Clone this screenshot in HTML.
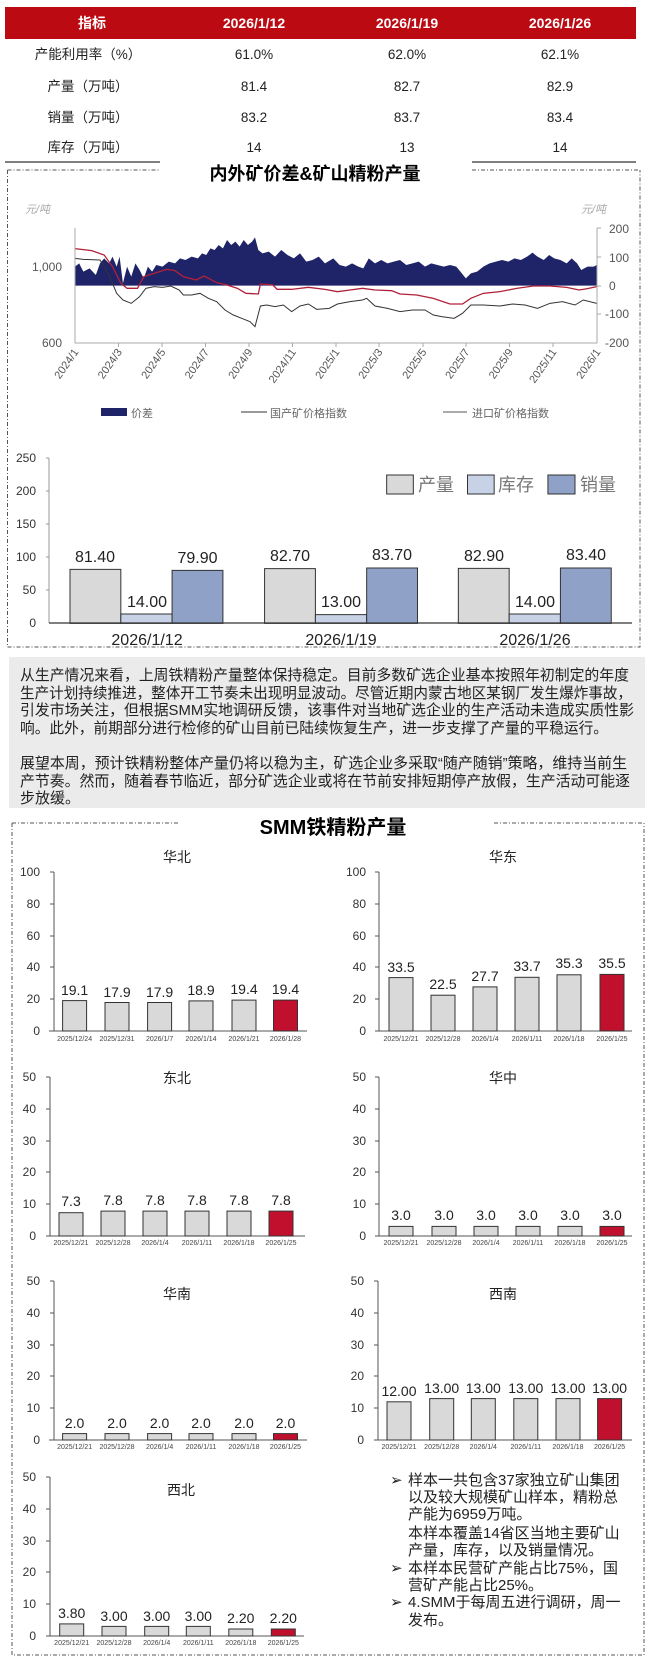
<!DOCTYPE html>
<html><head><meta charset="utf-8"><style>
html,body{margin:0;padding:0;background:#fff;}
svg{display:block;font-family:"Liberation Sans","Noto Sans CJK SC",sans-serif;}
</style></head><body>
<svg width="646" height="1667" viewBox="0 0 646 1667" xmlns="http://www.w3.org/2000/svg">
<!-- ===== TABLE ===== -->
<rect x="5" y="7" width="631" height="32" fill="#bb0a12"/>
<g fill="#fff" font-weight="bold" font-size="14" text-anchor="middle">
<text x="92" y="28">指标</text><text x="254" y="28">2026/1/12</text><text x="407" y="28">2026/1/19</text><text x="560" y="28">2026/1/26</text>
</g>
<g fill="#222" font-size="13.5" text-anchor="middle">
<text x="88" y="59">产能利用率（%）</text><text x="254" y="59">61.0%</text><text x="407" y="59">62.0%</text><text x="560" y="59">62.1%</text>
<text x="88" y="91">产量（万吨）</text><text x="254" y="91">81.4</text><text x="407" y="91">82.7</text><text x="560" y="91">82.9</text>
<text x="88" y="122">销量（万吨）</text><text x="254" y="122">83.2</text><text x="407" y="122">83.7</text><text x="560" y="122">83.4</text>
<text x="88" y="152">库存（万吨）</text><text x="254" y="152">14</text><text x="407" y="152">13</text><text x="560" y="152">14</text>
</g>
<line x1="5" y1="162" x2="160" y2="162" stroke="#333" stroke-width="1.2"/>
<line x1="472" y1="162" x2="636" y2="162" stroke="#333" stroke-width="1.2"/>

<!-- dashed box 1 -->
<g stroke="#555" stroke-width="1" stroke-dasharray="4,2,1,2" fill="none">
<path d="M7.5,170 H160 M472,170 H640 M7.5,170 V647 H640 V170"/>
</g>
<text x="315" y="180" font-size="18" font-weight="bold" text-anchor="middle" fill="#000">内外矿价差&amp;矿山精粉产量</text>

<!-- ===== LINE CHART ===== -->
<text x="25" y="213" font-size="11" font-style="italic" fill="#aaa">元/吨</text>
<text x="581" y="213" font-size="11" font-style="italic" fill="#aaa">元/吨</text>
<g transform="scale(0.416667,0.333333)">
<path fill="#1f2468" d="M180,800 190,790 200,815 215,805 230,825 240,790 250,775 262,790 270,770 280,800 287,770 295,850 305,800 315,830 325,790 335,810 345,835 355,800 365,815 375,795 390,800 405,785 420,790 432,775 445,780 460,770 475,775 485,760 495,765 505,745 515,750 525,735 535,745 545,720 555,735 565,725 575,740 585,720 595,735 605,725 612,712 620,750 630,760 645,755 660,770 675,750 690,765 705,775 720,760 735,785 750,780 765,770 780,790 800,775 815,795 830,800 845,790 860,800 872,805 885,775 900,790 915,780 930,790 945,785 960,780 975,795 990,790 1005,785 1020,800 1035,790 1050,795 1065,800 1080,795 1095,800 1105,815 1118,835 1130,820 1145,815 1160,800 1175,790 1190,785 1205,780 1220,785 1235,775 1250,780 1265,770 1278,758 1290,770 1305,780 1318,765 1330,775 1345,780 1360,790 1372,775 1385,790 1395,810 1410,800 1425,800 1432,795 1432,857 180,857Z"/>
<path fill="none" stroke="#b0203a" stroke-width="1.3" vector-effect="non-scaling-stroke" d="M180,746 220,752 250,765 270,800 290,850 305,865 330,865 345,830 370,820 400,808 420,812 440,830 470,840 490,828 520,848 545,855 570,865 590,880 620,882 625,852 655,855 665,868 700,868 740,862 780,868 810,875 840,870 870,865 900,870 940,872 960,882 1000,885 1040,895 1080,912 1110,912 1130,895 1160,880 1200,875 1240,865 1280,858 1320,858 1360,862 1390,870 1410,866 1432,860"/>
<path fill="none" stroke="#333" stroke-width="1" vector-effect="non-scaling-stroke" d="M180,775 200,778 240,780 260,820 280,880 295,900 315,910 335,890 350,865 370,860 390,862 410,858 430,870 440,885 460,885 480,880 500,895 520,905 540,930 560,945 580,955 600,965 612,980 625,918 640,915 660,920 680,915 700,935 720,918 740,912 760,928 790,925 810,912 840,905 870,900 880,895 900,918 930,925 960,935 990,930 1020,930 1040,945 1060,950 1090,955 1110,940 1130,915 1160,915 1200,918 1230,912 1260,915 1290,925 1320,910 1350,905 1380,915 1400,900 1432,910"/>
</g>
<g stroke="#aaa" stroke-width="1">
<line x1="75" y1="228" x2="75" y2="343"/><line x1="597" y1="228" x2="597" y2="343"/>
<line x1="75" y1="343" x2="597" y2="343"/>
<line x1="597" y1="228" x2="601" y2="228"/><line x1="597" y1="257" x2="601" y2="257"/><line x1="597" y1="286" x2="601" y2="286"/><line x1="597" y1="314" x2="601" y2="314"/>
<line x1="118.5" y1="343" x2="118.5" y2="347"/><line x1="162" y1="343" x2="162" y2="347"/><line x1="205.5" y1="343" x2="205.5" y2="347"/><line x1="249" y1="343" x2="249" y2="347"/><line x1="292.5" y1="343" x2="292.5" y2="347"/><line x1="336" y1="343" x2="336" y2="347"/><line x1="379" y1="343" x2="379" y2="347"/><line x1="423" y1="343" x2="423" y2="347"/><line x1="466" y1="343" x2="466" y2="347"/><line x1="509.5" y1="343" x2="509.5" y2="347"/><line x1="553" y1="343" x2="553" y2="347"/>
</g>
<g font-size="12" fill="#555">
<text x="62" y="271" text-anchor="end">1,000</text><text x="62" y="347" text-anchor="end">600</text>
<text x="609" y="233">200</text><text x="609" y="262">100</text><text x="609" y="290">0</text><text x="605" y="318">-100</text><text x="605" y="347">-200</text>
</g>
<g font-size="11" fill="#555" text-anchor="end">
<text transform="translate(79,352) rotate(-55)">2024/1</text>
<text transform="translate(122.5,352) rotate(-55)">2024/3</text>
<text transform="translate(166,352) rotate(-55)">2024/5</text>
<text transform="translate(209.5,352) rotate(-55)">2024/7</text>
<text transform="translate(253,352) rotate(-55)">2024/9</text>
<text transform="translate(296.5,352) rotate(-55)">2024/11</text>
<text transform="translate(340,352) rotate(-55)">2025/1</text>
<text transform="translate(383,352) rotate(-55)">2025/3</text>
<text transform="translate(427,352) rotate(-55)">2025/5</text>
<text transform="translate(470,352) rotate(-55)">2025/7</text>
<text transform="translate(513.5,352) rotate(-55)">2025/9</text>
<text transform="translate(557,352) rotate(-55)">2025/11</text>
<text transform="translate(601,352) rotate(-55)">2026/1</text>
</g>
<rect x="101" y="408" width="26" height="8" fill="#1f2468"/>
<line x1="241" y1="412" x2="267" y2="412" stroke="#333"/>
<line x1="443" y1="412" x2="467" y2="412" stroke="#555"/>
<g font-size="11" fill="#666"><text x="131" y="417">价差</text><text x="270" y="417">国产矿价格指数</text><text x="472" y="417">进口矿价格指数</text></g>

<!-- ===== BAR CHART 1 ===== -->
<g stroke="#999" stroke-width="1">
<line x1="49" y1="458" x2="49" y2="623"/>
<line x1="46" y1="458" x2="49" y2="458"/><line x1="46" y1="491" x2="49" y2="491"/><line x1="46" y1="524" x2="49" y2="524"/><line x1="46" y1="557" x2="49" y2="557"/><line x1="46" y1="590" x2="49" y2="590"/>
</g>
<g font-size="12" fill="#333" text-anchor="end">
<text x="36" y="462">250</text><text x="36" y="495">200</text><text x="36" y="528">150</text><text x="36" y="561">100</text><text x="36" y="594">50</text><text x="36" y="627">0</text>
</g>
<g transform="translate(0,420) scale(0.416667,0.333333)" stroke="#333" stroke-width="1" >
<g vector-effect="non-scaling-stroke">
<rect x="168" y="448" width="122" height="162" fill="#d9d9d9" vector-effect="non-scaling-stroke"/>
<rect x="290" y="582" width="123" height="28" fill="#c8d2e6" vector-effect="non-scaling-stroke"/>
<rect x="413" y="451" width="122" height="159" fill="#8fa1c6" vector-effect="non-scaling-stroke"/>
<rect x="635" y="446" width="122" height="164" fill="#d9d9d9" vector-effect="non-scaling-stroke"/>
<rect x="757" y="584" width="123" height="26" fill="#c8d2e6" vector-effect="non-scaling-stroke"/>
<rect x="880" y="444" width="122" height="166" fill="#8fa1c6" vector-effect="non-scaling-stroke"/>
<rect x="1100" y="445" width="122" height="165" fill="#d9d9d9" vector-effect="non-scaling-stroke"/>
<rect x="1222" y="582" width="123" height="28" fill="#c8d2e6" vector-effect="non-scaling-stroke"/>
<rect x="1345" y="444" width="122" height="166" fill="#8fa1c6" vector-effect="non-scaling-stroke"/>
<rect x="928" y="165" width="64" height="57" fill="#d9d9d9" vector-effect="non-scaling-stroke"/>
<rect x="1122" y="165" width="64" height="57" fill="#c8d2e6" vector-effect="non-scaling-stroke"/>
<rect x="1315" y="165" width="65" height="57" fill="#8fa1c6" vector-effect="non-scaling-stroke"/>
</g>
</g>
<line x1="49" y1="623" x2="632" y2="623" stroke="#333" stroke-width="1.2"/>
<g font-size="18" fill="#777"><text x="418" y="491">产量</text><text x="498" y="491">库存</text><text x="580" y="491">销量</text></g>
<g font-size="16" fill="#222" text-anchor="middle">
<text x="95" y="562">81.40</text><text x="147" y="607">14.00</text><text x="197.5" y="563">79.90</text>
<text x="290" y="561">82.70</text><text x="341" y="607">13.00</text><text x="392" y="560">83.70</text>
<text x="484" y="561">82.90</text><text x="535" y="607">14.00</text><text x="586" y="560">83.40</text>
<text x="147" y="645">2026/1/12</text><text x="341" y="645">2026/1/19</text><text x="535" y="645">2026/1/26</text>
</g>

<!-- ===== TEXT BOX ===== -->
<rect x="9" y="657" width="636" height="151" fill="#ebebeb"/>
<g font-size="15" fill="#222">
<text x="20" y="680" textLength="609" lengthAdjust="spacingAndGlyphs">从生产情况来看，上周铁精粉产量整体保持稳定。目前多数矿选企业基本按照年初制定的年度</text>
<text x="20" y="698" textLength="612" lengthAdjust="spacingAndGlyphs">生产计划持续推进，整体开工节奏未出现明显波动。尽管近期内蒙古地区某钢厂发生爆炸事故，</text>
<text x="20" y="715" textLength="614" lengthAdjust="spacingAndGlyphs">引发市场关注，但根据SMM实地调研反馈，该事件对当地矿选企业的生产活动未造成实质性影</text>
<text x="20" y="733" textLength="588" lengthAdjust="spacingAndGlyphs">响。此外，前期部分进行检修的矿山目前已陆续恢复生产，进一步支撑了产量的平稳运行。</text>
<text x="20" y="768" textLength="607" lengthAdjust="spacingAndGlyphs">展望本周，预计铁精粉整体产量仍将以稳为主，矿选企业多采取“随产随销”策略，维持当前生</text>
<text x="20" y="786" textLength="610" lengthAdjust="spacingAndGlyphs">产节奏。然而，随着春节临近，部分矿选企业或将在节前安排短期停产放假，生产活动可能逐</text>
<text x="20" y="803">步放缓。</text>
</g>

<!-- ===== SMM SECTION ===== -->
<g stroke="#555" stroke-width="1" stroke-dasharray="4,2,1,2" fill="none">
<path d="M12,823 H179 M494,823 H644 M12,823 V1655 H644 V823"/>
</g>
<text x="333" y="834" font-size="20" font-weight="bold" text-anchor="middle" fill="#000">SMM铁精粉产量</text>

<!-- shared small chart styles -->
<g font-size="14" fill="#222" text-anchor="middle">
<text x="177" y="862">华北</text><text x="503" y="862">华东</text>
<text x="177" y="1083">东北</text><text x="503" y="1083">华中</text>
<text x="177" y="1299">华南</text><text x="503" y="1299">西南</text>
<text x="181" y="1495">西北</text>
</g>

<!-- axes -->
<g stroke="#555" stroke-width="1">
<!-- 华北 -->
<line x1="54" y1="872" x2="54" y2="1031"/><line x1="49" y1="1031" x2="307" y2="1031"/>
<line x1="50" y1="872" x2="54" y2="872"/><line x1="50" y1="904" x2="54" y2="904"/><line x1="50" y1="936" x2="54" y2="936"/><line x1="50" y1="967" x2="54" y2="967"/><line x1="50" y1="999" x2="54" y2="999"/>
<!-- 华东 -->
<line x1="379" y1="872" x2="379" y2="1031"/><line x1="375" y1="1031" x2="632" y2="1031"/>
<line x1="375" y1="872" x2="379" y2="872"/><line x1="375" y1="904" x2="379" y2="904"/><line x1="375" y1="936" x2="379" y2="936"/><line x1="375" y1="967" x2="379" y2="967"/><line x1="375" y1="999" x2="379" y2="999"/>
<!-- 东北 -->
<line x1="50" y1="1077" x2="50" y2="1236"/><line x1="46" y1="1236" x2="305" y2="1236"/>
<line x1="46" y1="1077" x2="50" y2="1077"/><line x1="46" y1="1109" x2="50" y2="1109"/><line x1="46" y1="1141" x2="50" y2="1141"/><line x1="46" y1="1172" x2="50" y2="1172"/><line x1="46" y1="1204" x2="50" y2="1204"/>
<!-- 华中 -->
<line x1="379" y1="1077" x2="379" y2="1236"/><line x1="375" y1="1236" x2="632" y2="1236"/>
<line x1="375" y1="1077" x2="379" y2="1077"/><line x1="375" y1="1109" x2="379" y2="1109"/><line x1="375" y1="1141" x2="379" y2="1141"/><line x1="375" y1="1172" x2="379" y2="1172"/><line x1="375" y1="1204" x2="379" y2="1204"/>
<!-- 华南 -->
<line x1="54" y1="1281" x2="54" y2="1440"/><line x1="49" y1="1440" x2="307" y2="1440"/>
<line x1="50" y1="1281" x2="54" y2="1281"/><line x1="50" y1="1313" x2="54" y2="1313"/><line x1="50" y1="1345" x2="54" y2="1345"/><line x1="50" y1="1376" x2="54" y2="1376"/><line x1="50" y1="1408" x2="54" y2="1408"/>
<!-- 西南 -->
<line x1="378" y1="1281" x2="378" y2="1440"/><line x1="374" y1="1440" x2="632" y2="1440"/>
<line x1="374" y1="1281" x2="378" y2="1281"/><line x1="374" y1="1313" x2="378" y2="1313"/><line x1="374" y1="1345" x2="378" y2="1345"/><line x1="374" y1="1376" x2="378" y2="1376"/><line x1="374" y1="1408" x2="378" y2="1408"/>
<!-- 西北 -->
<line x1="50" y1="1477" x2="50" y2="1636"/><line x1="46" y1="1636" x2="304" y2="1636"/>
<line x1="46" y1="1477" x2="50" y2="1477"/><line x1="46" y1="1509" x2="50" y2="1509"/><line x1="46" y1="1541" x2="50" y2="1541"/><line x1="46" y1="1572" x2="50" y2="1572"/><line x1="46" y1="1604" x2="50" y2="1604"/>
</g>
<g font-size="12" fill="#333" text-anchor="end">
<text x="40" y="876">100</text><text x="40" y="908">80</text><text x="40" y="940">60</text><text x="40" y="971">40</text><text x="40" y="1003">20</text><text x="40" y="1035">0</text>
<text x="366" y="876">100</text><text x="366" y="908">80</text><text x="366" y="940">60</text><text x="366" y="971">40</text><text x="366" y="1003">20</text><text x="366" y="1035">0</text>
<text x="36" y="1081">50</text><text x="36" y="1113">40</text><text x="36" y="1145">30</text><text x="36" y="1176">20</text><text x="36" y="1208">10</text><text x="36" y="1240">0</text>
<text x="366" y="1081">50</text><text x="366" y="1113">40</text><text x="366" y="1145">30</text><text x="366" y="1176">20</text><text x="366" y="1208">10</text><text x="366" y="1240">0</text>
<text x="40" y="1285">50</text><text x="40" y="1317">40</text><text x="40" y="1349">30</text><text x="40" y="1380">20</text><text x="40" y="1412">10</text><text x="40" y="1444">0</text>
<text x="364" y="1285">50</text><text x="364" y="1317">40</text><text x="364" y="1349">30</text><text x="364" y="1380">20</text><text x="364" y="1412">10</text><text x="364" y="1444">0</text>
<text x="36" y="1481">50</text><text x="36" y="1513">40</text><text x="36" y="1545">30</text><text x="36" y="1576">20</text><text x="36" y="1608">10</text><text x="36" y="1640">0</text>
</g>

<!-- bars (orig coords) width 24 -->
<g stroke="#333" stroke-width="1" fill="#d9d9d9">
<!-- 华北 tops: 1031 - v*1.593 -->
<rect x="62.6" y="1000.6" width="24" height="30.4"/><rect x="105" y="1002.5" width="24" height="28.5"/><rect x="147.6" y="1002.5" width="24" height="28.5"/><rect x="189" y="1000.9" width="24" height="30.1"/><rect x="232" y="1000.1" width="24" height="30.9"/><rect x="273.5" y="1000.1" width="24" height="30.9" fill="#c0102e"/>
<!-- 华东 -->
<rect x="389" y="977.6" width="24" height="53.4"/><rect x="431" y="995.2" width="24" height="35.8"/><rect x="473" y="986.9" width="24" height="44.1"/><rect x="515" y="977.3" width="24" height="53.7"/><rect x="557" y="974.8" width="24" height="56.2"/><rect x="600" y="974.4" width="24" height="56.6" fill="#c0102e"/>
<!-- 东北 tops: 1236 - v*3.186 -->
<rect x="59" y="1212.7" width="24" height="23.3"/><rect x="101" y="1211.1" width="24" height="24.9"/><rect x="143" y="1211.1" width="24" height="24.9"/><rect x="185" y="1211.1" width="24" height="24.9"/><rect x="227" y="1211.1" width="24" height="24.9"/><rect x="269" y="1211.1" width="24" height="24.9" fill="#c0102e"/>
<!-- 华中 -->
<rect x="389" y="1226.4" width="24" height="9.6"/><rect x="432" y="1226.4" width="24" height="9.6"/><rect x="474" y="1226.4" width="24" height="9.6"/><rect x="516" y="1226.4" width="24" height="9.6"/><rect x="558" y="1226.4" width="24" height="9.6"/><rect x="600" y="1226.4" width="24" height="9.6" fill="#c0102e"/>
<!-- 华南 tops: 1440 - v*3.186 -->
<rect x="62.6" y="1433.6" width="24" height="6.4"/><rect x="105" y="1433.6" width="24" height="6.4"/><rect x="147.6" y="1433.6" width="24" height="6.4"/><rect x="189" y="1433.6" width="24" height="6.4"/><rect x="232" y="1433.6" width="24" height="6.4"/><rect x="273.5" y="1433.6" width="24" height="6.4" fill="#c0102e"/>
<!-- 西南 -->
<rect x="387" y="1401.8" width="24" height="38.2"/><rect x="429.7" y="1398.6" width="24" height="41.4"/><rect x="471.3" y="1398.6" width="24" height="41.4"/><rect x="513.8" y="1398.6" width="24" height="41.4"/><rect x="556" y="1398.6" width="24" height="41.4"/><rect x="597.6" y="1398.6" width="24" height="41.4" fill="#c0102e"/>
<!-- 西北 tops: 1636 - v*3.186 -->
<rect x="59.7" y="1623.9" width="24" height="12.1"/><rect x="102" y="1626.4" width="24" height="9.6"/><rect x="144.7" y="1626.4" width="24" height="9.6"/><rect x="186.3" y="1626.4" width="24" height="9.6"/><rect x="228.8" y="1629" width="24" height="7"/><rect x="271.3" y="1629" width="24" height="7" fill="#c0102e"/>
</g>

<!-- value labels -->
<g font-size="14" fill="#222" text-anchor="middle">
<text x="74.6" y="995">19.1</text><text x="117" y="997">17.9</text><text x="159.6" y="997">17.9</text><text x="201" y="995">18.9</text><text x="244" y="994">19.4</text><text x="285.5" y="994">19.4</text>
<text x="401" y="972">33.5</text><text x="443" y="989">22.5</text><text x="485" y="981">27.7</text><text x="527" y="971">33.7</text><text x="569" y="968">35.3</text><text x="612" y="968">35.5</text>
<text x="71" y="1206">7.3</text><text x="113" y="1205">7.8</text><text x="155" y="1205">7.8</text><text x="197" y="1205">7.8</text><text x="239" y="1205">7.8</text><text x="281" y="1205">7.8</text>
<text x="401" y="1220">3.0</text><text x="444" y="1220">3.0</text><text x="486" y="1220">3.0</text><text x="528" y="1220">3.0</text><text x="570" y="1220">3.0</text><text x="612" y="1220">3.0</text>
<text x="74.6" y="1428">2.0</text><text x="117" y="1428">2.0</text><text x="159.6" y="1428">2.0</text><text x="201" y="1428">2.0</text><text x="244" y="1428">2.0</text><text x="285.5" y="1428">2.0</text>
<text x="399" y="1396">12.00</text><text x="441.7" y="1393">13.00</text><text x="483.3" y="1393">13.00</text><text x="525.8" y="1393">13.00</text><text x="568" y="1393">13.00</text><text x="609.6" y="1393">13.00</text>
<text x="71.7" y="1618">3.80</text><text x="114" y="1621">3.00</text><text x="156.7" y="1621">3.00</text><text x="198.3" y="1621">3.00</text><text x="240.8" y="1623">2.20</text><text x="283.3" y="1623">2.20</text>
</g>

<!-- x labels -->
<g font-size="7" fill="#444" text-anchor="middle">
<text x="74.6" y="1041">2025/12/24</text><text x="117" y="1041">2025/12/31</text><text x="159.6" y="1041">2026/1/7</text><text x="201" y="1041">2026/1/14</text><text x="244" y="1041">2026/1/21</text><text x="285.5" y="1041">2026/1/28</text>
<text x="401" y="1041">2025/12/21</text><text x="443" y="1041">2025/12/28</text><text x="485" y="1041">2026/1/4</text><text x="527" y="1041">2026/1/11</text><text x="569" y="1041">2026/1/18</text><text x="612" y="1041">2026/1/25</text>
<text x="71" y="1245">2025/12/21</text><text x="113" y="1245">2025/12/28</text><text x="155" y="1245">2026/1/4</text><text x="197" y="1245">2026/1/11</text><text x="239" y="1245">2026/1/18</text><text x="281" y="1245">2026/1/25</text>
<text x="401" y="1245">2025/12/21</text><text x="444" y="1245">2025/12/28</text><text x="486" y="1245">2026/1/4</text><text x="528" y="1245">2026/1/11</text><text x="570" y="1245">2026/1/18</text><text x="612" y="1245">2026/1/25</text>
<text x="74.6" y="1449">2025/12/21</text><text x="117" y="1449">2025/12/28</text><text x="159.6" y="1449">2026/1/4</text><text x="201" y="1449">2026/1/11</text><text x="244" y="1449">2026/1/18</text><text x="285.5" y="1449">2026/1/25</text>
<text x="399" y="1449">2025/12/21</text><text x="441.7" y="1449">2025/12/28</text><text x="483.3" y="1449">2026/1/4</text><text x="525.8" y="1449">2026/1/11</text><text x="568" y="1449">2026/1/18</text><text x="609.6" y="1449">2026/1/25</text>
<text x="71.7" y="1645">2025/12/21</text><text x="114" y="1645">2025/12/28</text><text x="156.7" y="1645">2026/1/4</text><text x="198.3" y="1645">2026/1/11</text><text x="240.8" y="1645">2026/1/18</text><text x="283.3" y="1645">2026/1/25</text>
</g>

<!-- notes -->
<g font-size="15" fill="#222">
<text x="390" y="1485">➢</text><text x="408" y="1485">样本一共包含37家独立矿山集团</text>
<text x="408" y="1502">以及较大规模矿山样本，精粉总</text>
<text x="408" y="1519">产能为6959万吨。</text>
<text x="408" y="1538">本样本覆盖14省区当地主要矿山</text>
<text x="408" y="1555">产量，库存，以及销量情况。</text>
<text x="390" y="1573">➢</text><text x="408" y="1573">本样本民营矿产能占比75%，国</text>
<text x="408" y="1590">营矿产能占比25%。</text>
<text x="390" y="1607">➢</text><text x="408" y="1607">4.SMM于每周五进行调研，周一</text>
<text x="408" y="1625">发布。</text>
</g>
</svg>
</body></html>
